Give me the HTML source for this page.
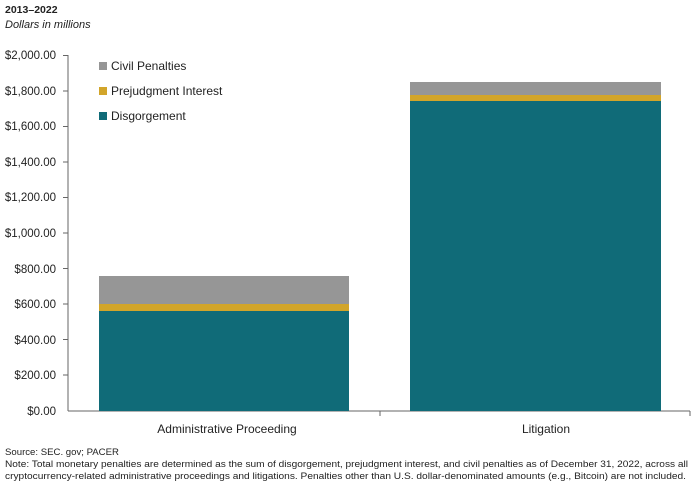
<!DOCTYPE html>
<html><head><style>
body{margin:0;background:#fff;width:700px;height:491px;overflow:hidden;font-family:"Liberation Sans",sans-serif;color:#222}
</style></head><body>
<svg width="700" height="491" xmlns="http://www.w3.org/2000/svg" font-family="Liberation Sans, sans-serif" fill="#222">
<text x="5" y="13" font-size="10.5" font-weight="bold">2013–2022</text>
<text x="5" y="28" font-size="11" font-style="italic">Dollars in millions</text>
<g font-size="11.5" text-anchor="end">
<text x="56" y="59">$2,000.00</text>
<text x="56" y="95">$1,800.00</text>
<text x="56" y="130">$1,600.00</text>
<text x="56" y="166">$1,400.00</text>
<text x="56" y="201">$1,200.00</text>
<text x="56" y="237">$1,000.00</text>
<text x="56" y="273">$800.00</text>
<text x="56" y="308">$600.00</text>
<text x="56" y="344">$400.00</text>
<text x="56" y="379">$200.00</text>
<text x="56" y="415">$0.00</text>
</g>
<g stroke="#666" stroke-width="1">
<line x1="68" y1="55" x2="68" y2="411"/>
<line x1="68" y1="411" x2="690" y2="411"/>
<line x1="63" y1="55.5" x2="68" y2="55.5"/><line x1="63" y1="91" x2="68" y2="91"/>
<line x1="63" y1="126.5" x2="68" y2="126.5"/><line x1="63" y1="162" x2="68" y2="162"/>
<line x1="63" y1="197.5" x2="68" y2="197.5"/><line x1="63" y1="233" x2="68" y2="233"/>
<line x1="63" y1="268.5" x2="68" y2="268.5"/><line x1="63" y1="304" x2="68" y2="304"/>
<line x1="63" y1="339.5" x2="68" y2="339.5"/><line x1="63" y1="375" x2="68" y2="375"/>
<line x1="380" y1="411" x2="380" y2="416"/><line x1="690" y1="411" x2="690" y2="416"/>
</g>
<rect x="99" y="276" width="250" height="28" fill="#969696"/>
<rect x="99" y="304" width="250" height="7" fill="#d2a52a"/>
<rect x="99" y="311" width="250" height="100" fill="#106b78"/>
<rect x="410" y="82" width="251" height="13" fill="#969696"/>
<rect x="410" y="95" width="251" height="6" fill="#d2a52a"/>
<rect x="410" y="101" width="251" height="310" fill="#106b78"/>
<rect x="99" y="62" width="8" height="8" fill="#969696"/>
<rect x="99" y="87" width="8" height="8" fill="#d2a52a"/>
<rect x="99" y="112" width="8" height="8" fill="#106b78"/>
<g font-size="12"><text x="111" y="70">Civil Penalties</text><text x="111" y="95">Prejudgment Interest</text><text x="111" y="120">Disgorgement</text></g>
<g font-size="12" text-anchor="middle"><text x="227" y="433">Administrative Proceeding</text><text x="546" y="433">Litigation</text></g>
<g font-size="9.6"><text x="5" y="455">Source: SEC. gov; PACER</text>
<text x="5" y="467" textLength="683" lengthAdjust="spacingAndGlyphs">Note: Total monetary penalties are determined as the sum of disgorgement, prejudgment interest, and civil penalties as of December 31, 2022, across all</text>
<text x="5" y="479" textLength="681" lengthAdjust="spacingAndGlyphs">cryptocurrency-related administrative proceedings and litigations. Penalties other than U.S. dollar-denominated amounts (e.g., Bitcoin) are not included.</text></g>
</svg>
</body></html>
